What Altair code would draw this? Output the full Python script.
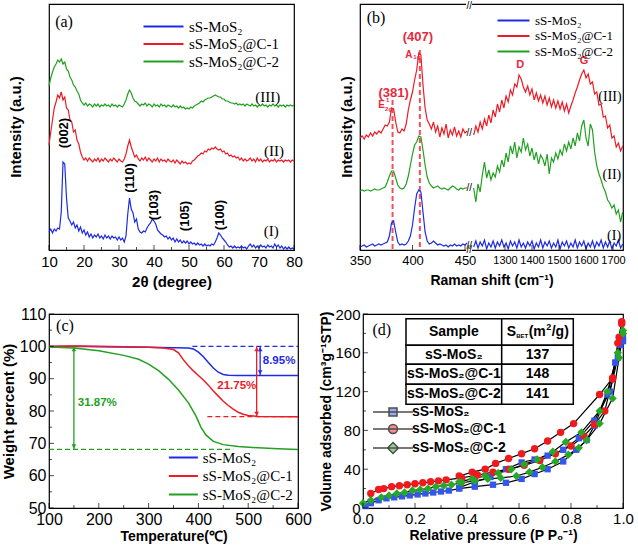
import altair as alt
import pandas as pd

SER = ["sS-MoS₂", "sS-MoS₂@C-1", "sS-MoS₂@C-2"]
LINE_COL = ["#1d2be6", "#ee1b25", "#22a022"]
MARK_COL = ["#3356ee", "#f01a1e", "#27a827"]
SANS = "Liberation Sans"
SERIF = "Liberation Serif"

# ---------------- (a) XRD ----------------
xrd_theta = [10 + 0.5 * i for i in range(141)]
xrd_I = [18, 21, 17, 21, 19, 22, 21, 38, 88, 86,
         52, 32, 29, 25, 28, 22, 25, 19, 23, 17,
         20, 15, 18, 13, 16, 12, 15, 13, 16, 12,
         14, 11, 15, 12, 14, 11, 14, 12, 13, 10,
         13, 10, 12, 8, 14, 36, 52, 41, 37, 28,
         31, 21, 18, 17, 19, 18, 22, 25, 27, 31,
         29, 26, 20, 18, 16, 15, 13, 14, 11, 13,
         10, 12, 8, 11, 8, 10, 7, 9, 7, 9,
         6, 8, 6, 7, 5, 7, 5, 6, 4, 6,
         4, 5, 4, 6, 5, 8, 12, 17, 15, 12,
         10, 8, 5, 3, 4, 2, 4, 2, 3, 2,
         4, 2, 3, 1, 4, 6, 3, 5, 2, 4,
         2, 5, 3, 4, 2, 5, 3, 4, 2, 6,
         3, 5, 2, 4, 1, 3, 1, 3, 1, 2,
         1]
xrd_II = [105, 118, 130, 142, 148, 155, 152, 158, 150, 153,
          142, 140, 130, 128, 118, 120, 110, 106, 98, 93,
          90, 92, 89, 92, 90, 88, 91, 89, 92, 88,
          91, 89, 92, 90, 88, 91, 89, 92, 90, 88,
          91, 89, 88, 91, 96, 104, 110, 103, 98, 93,
          95, 91, 89, 92, 90, 93, 89, 92, 90, 88,
          91, 89, 92, 88, 91, 89, 90, 88, 91, 89,
          88, 90, 87, 90, 88, 86, 89, 87, 88, 86,
          87, 86, 89, 90, 92, 94, 95, 97, 96, 99,
          98, 101, 100, 102, 101, 103, 101, 100, 101, 98,
          99, 96, 97, 94, 95, 93, 94, 92, 93, 90,
          92, 89, 91, 89, 90, 92, 89, 91, 88, 92,
          89, 91, 88, 90, 89, 91, 88, 90, 89, 91,
          88, 90, 89, 90, 88, 90, 89, 90, 88, 90,
          89]
xrd_III = [164, 172, 178, 183, 186, 190, 188, 191, 186, 188,
           181, 179, 173, 170, 165, 163, 159, 156, 150, 147,
           145, 147, 144, 146, 145, 143, 146, 144, 146, 143,
           145, 144, 146, 144, 145, 143, 146, 144, 145, 143,
           145, 144, 143, 146, 150, 156, 160, 157, 152, 149,
           148, 146, 144, 146, 145, 147, 144, 146, 145, 143,
           146, 144, 145, 143, 146, 144, 145, 143, 145, 144,
           143, 145, 143, 144, 142, 144, 142, 143, 141, 142,
           141, 143, 142, 144, 145, 146, 147, 149, 148, 150,
           151, 152, 152, 153, 154, 155, 154, 153, 153, 151,
           151, 149, 149, 148, 147, 147, 146, 147, 145, 146,
           145, 146, 144, 146, 145, 144, 146, 144, 145, 143,
           145, 144, 146, 144, 145, 143, 145, 144, 146, 144,
           145, 143, 145, 144, 145, 143, 145, 144, 145, 144,
           145]
xrd_ticks = [10, 20, 30, 40, 50, 60, 70, 80]
xrd_minor = [15, 25, 35, 45, 55, 65, 75]
xrd_peaks = ["(002)", "(110)", "(103)", "(105)", "(100)"]
xrd_peak_x = [14.3, 33.1, 40.0, 48.9, 58.8]
xrd_peak_y = [117, 72, 45, 34, 35]
xrd_roman = ["(I)", "(II)", "(III)"]
xrd_roman_x = [73.5, 74.3, 72.5]
xrd_roman_y = [19, 99, 153]

# ---------------- (b) Raman ----------------
ram_xL = list(range(350, 453, 2))
ram_xR = list(range(1184, 1737, 8))
ram_I_L = [3, 4, 5, 3, 4, 5, 6, 4, 5, 6,
           5, 6, 7, 8, 14, 27, 29, 18, 8, 5,
           6, 5, 6, 9, 14, 25, 42, 56, 60, 58,
           38, 18, 9, 6, 7, 9, 7, 5, 6, 5,
           4, 5, 3, 5, 4, 6, 4, 5, 4, 6,
           5, 7]
ram_II_L = [59, 60, 59, 60, 60, 59, 60, 61, 60, 60,
            61, 62, 63, 68, 74, 79, 79, 72, 65, 62,
            61, 62, 66, 74, 85, 96, 105, 108, 114, 113,
            100, 85, 73, 67, 64, 62, 63, 64, 62, 61,
            62, 61, 60, 62, 64, 63, 61, 60, 62, 61,
            62, 62]
ram_III_L = [112, 114, 111, 115, 113, 117, 114, 118, 116, 119,
             117, 121, 125, 124, 128, 142, 141, 128, 118, 117,
             121, 119, 126, 140, 150, 158, 170, 180, 197, 195,
             165, 142, 130, 126, 121, 128, 118, 124, 113, 122,
             116, 126, 112, 120, 115, 123, 114, 119, 113, 121,
             117, 119]
ram_I_R = [3, 9, 2, 8, 4, 10, 1, 7, 3, 9,
           2, 8, 4, 10, 3, 7, 1, 9, 4, 8,
           2, 10, 3, 7, 2, 8, 4, 9, 1, 7,
           3, 10, 2, 8, 4, 9, 2, 7, 3, 10,
           1, 8, 4, 9, 2, 7, 3, 10, 2, 8,
           4, 9, 1, 7, 3, 9, 2, 8, 4, 10,
           2, 8, 3, 9, 1, 7, 4, 10, 2, 6]
ram_II_R = [62, 48, 66, 58, 75, 88, 72, 80, 70, 77,
            73, 84, 78, 90, 83, 97, 88, 104, 96, 108,
            92, 103, 98, 112, 100, 106, 94, 102, 90, 98,
            86, 95, 91, 84, 96, 76, 92, 88, 97, 91,
            100, 95, 106, 99, 108, 101, 112, 104, 117, 109,
            124, 130, 112, 104, 126, 120, 98, 84, 76, 70,
            63, 58, 50, 47, 42, 45, 36, 40, 28, 38]
ram_III_R = [115, 124, 118, 128, 121, 131, 124, 135, 127, 140,
             133, 146, 138, 150, 142, 154, 148, 160, 155, 166,
             163, 175, 171, 163, 158, 164, 155, 161, 150, 157,
             149, 155, 147, 154, 145, 152, 143, 150, 142, 149,
             141, 148, 139, 146, 137, 144, 150, 157, 163, 170,
             176, 180, 172, 176, 166, 168, 156, 158, 145, 146,
             133, 134, 122, 125, 112, 114, 103, 107, 99, 104]
# curve (I) = sS-MoS2, (II) = sS-MoS2@C-2, (III) = sS-MoS2@C-1
ram_series_of = [SER[0], SER[2], SER[1]]
ram_ticks = [350, 400, 450, 1300, 1400, 1500, 1600, 1700]
ram_dash_x = [381, 407]
ram_dash_top = [150, 200]
ram_break_x = 454
ram_break_y = [244, 117, 62, 4, 0]
ram_roman = ["(I)", "(II)", "(III)"]
ram_roman_x = [1704, 1696, 1689]
ram_roman_y = [14, 75, 153]

# ---------------- (c) TGA ----------------
tga_T_I = [100, 150, 200, 250, 300, 350, 380, 390, 400, 410, 420, 430, 440, 450, 460, 480, 600]
tga_W_I = [99.9, 100, 99.9, 99.8, 99.7, 99.6, 99.5, 99.2, 98.2, 96.8, 95.0, 93.3, 92.0, 91.3, 91.05, 91.0, 91.0]
tga_T_II = [100, 150, 200, 250, 300, 330, 350, 360, 370, 380, 390, 400, 410, 420, 430, 440, 450, 460,
            470, 480, 490, 500, 520, 600]
tga_W_II = [100, 100.1, 100, 99.9, 99.7, 99.5, 99.0, 98.0, 95.8, 94.0, 92.4, 91.0, 89.6, 88.0, 86.2,
            84.6, 83.0, 81.7, 80.6, 79.6, 79.0, 78.6, 78.3, 78.25]
tga_T_III = [100, 150, 200, 250, 280, 300, 320, 340, 360, 380, 395, 405, 415, 430, 450, 480, 520, 560, 600]
tga_W_III = [99.8, 99.5, 98.6, 97.2, 96.0, 94.5, 92.5, 89.8, 86.5, 82.5, 78.5, 75.0, 72.6, 70.6, 69.6,
             69.0, 68.6, 68.3, 68.1]
tga_loss = ["8.95%", "21.75%", "31.87%"]
tga_loss_T = [562, 477, 197]
tga_loss_W = [95.4, 87.7, 82.5]
tga_arrow_T = [524, 517, 150]
tga_arrow_top = [100, 100, 100]
tga_arrow_bot = [91.05, 78.25, 68.13]
tga_dash_T1 = [388, 418, 100]
tga_dash_T2 = [600, 600, 470]
tga_dash_W = [100, 78.25, 68.13]

# ---------------- (d) BET ----------------
iso_ads_P = [
    [0.01, 0.03, 0.06, 0.09, 0.12, 0.15, 0.18, 0.21, 0.24, 0.27, 0.30, 0.33, 0.37, 0.43, 0.50, 0.55,
     0.61, 0.66, 0.71, 0.77, 0.82, 0.86, 0.89, 0.94, 0.97, 0.99, 1.00],
    [0.03, 0.06, 0.08, 0.11, 0.14, 0.17, 0.20, 0.23, 0.26, 0.29, 0.32, 0.38, 0.44, 0.50, 0.56, 0.62,
     0.68, 0.74, 0.80, 0.85, 0.89, 0.93, 0.96, 0.98, 0.995],
    [0.0, 0.03, 0.07, 0.10, 0.13, 0.16, 0.19, 0.22, 0.25, 0.28, 0.31, 0.34, 0.38, 0.43, 0.48, 0.53,
     0.59, 0.64, 0.69, 0.74, 0.79, 0.83, 0.86, 0.91, 0.96, 0.985, 1.0]]
iso_ads_V = [
    [2, 5, 8, 10, 11, 12, 13, 14, 15, 16, 17, 18, 20, 22, 24, 26, 30, 35, 40, 48, 60, 70, 85, 117, 150,
     168, 172],
    [15, 19, 20, 22, 23, 24, 25, 26, 27, 28, 29, 31, 34, 37, 40, 44, 49, 56, 64, 74, 86, 100, 133, 170, 190],
    [5, 8, 11, 13, 15, 16, 18, 19, 20, 22, 23, 24, 26, 28, 30, 31, 33, 37, 42, 48, 55, 62, 70, 87, 113,
     155, 180]]
iso_des_P = [
    [1.00, 0.98, 0.95, 0.89, 0.83, 0.77, 0.71, 0.66, 0.61, 0.55, 0.49, 0.43, 0.37],
    [0.995, 0.985, 0.96, 0.91, 0.81, 0.76, 0.71, 0.66, 0.61, 0.56, 0.51, 0.47, 0.42, 0.37],
    [1.0, 0.98, 0.94, 0.91, 0.84, 0.78, 0.73, 0.67, 0.62, 0.57, 0.52, 0.47, 0.42, 0.37]]
iso_des_V = [
    [176, 155, 120, 90, 72, 60, 54, 50, 47, 40, 32, 27, 21],
    [192, 176, 134, 117, 87, 78, 69, 61, 56, 51, 46, 40, 37, 33],
    [183, 160, 120, 100, 78, 68, 58, 50, 45, 40, 36, 33, 30, 27]]
bet_samples = ["sS-MoS₂", "sS-MoS₂@C-1", "sS-MoS₂@C-2"]
bet_sbet = ["137", "148", "141"]


# ---------------- helpers ----------------
def ax(title, values=None, labels=True, lfs=15, tfs=15, title_pad=4, label_pad=4, **kw):
    d = dict(title=title, grid=False, domain=False, ticks=False, labelFont=SANS, labelFontSize=lfs,
             labelColor="black", labelPadding=label_pad, labelFlush=False, labelOverlap=False,
             titleFont=SANS, titleFontSize=tfs, titleFontWeight="bold", titleColor="black",
             titlePadding=title_pad)
    if values is not None:
        d["values"] = values
    if not labels:
        d["labels"] = False
    d.update(kw)
    return alt.Axis(**d)


def line_legend(orient, offset, L, fs, rowpad, gap=3):
    # line symbol of length L: custom path spanning -1..7 units (r = L / 8 px per unit)
    r = L / 8.0
    return alt.Legend(orient=orient, offset=offset, title=None, direction="vertical",
                      symbolType="M-1,0H7", symbolSize=(2 * r) ** 2, symbolStrokeWidth=2, labelFont=SERIF,
                      labelFontSize=fs, labelColor="black", labelOffset=6 * r + gap,
                      rowPadding=rowpad, padding=0, labelLimit=0)


INDEP = dict(color="independent", fill="independent", shape="independent", stroke="independent")

# ---------------- panel (a) ----------------
WA, HA = 245, 246
xs_a = alt.Scale(domain=[10, 80], nice=False, zero=False)
ys_a = alt.Scale(domain=[0, 246], nice=False, zero=False)
XA = ax("2θ (degree)", values=xrd_ticks, lfs=15, tfs=15, title_pad=5)


def enc_a(ch):
    return ch.encode(x=alt.X("x:Q", scale=xs_a, axis=XA), y=alt.Y("y:Q", scale=ys_a, axis=None))


na = len(xrd_theta)
df_a = pd.DataFrame({"x": xrd_theta * 3, "y": xrd_I + xrd_II + xrd_III,
                     "s": [SER[0]] * na + [SER[1]] * na + [SER[2]] * na})
a_lines = enc_a(alt.Chart(df_a).mark_line(strokeWidth=1.2)).encode(
    color=alt.Color("s:N", scale=alt.Scale(domain=SER, range=LINE_COL),
                    legend=line_legend("top-right", 15, 40, 15, 1.5)))
a_peaks = enc_a(alt.Chart(pd.DataFrame({"x": xrd_peak_x, "y": xrd_peak_y, "t": xrd_peaks})).mark_text(
    angle=270, font=SANS, fontSize=13, fontWeight="bold", color="black")).encode(text="t:N")
a_roman = enc_a(alt.Chart(pd.DataFrame({"x": xrd_roman_x, "y": xrd_roman_y, "t": xrd_roman})).mark_text(
    font=SERIF, fontSize=15, color="black")).encode(text="t:N")
a_tag = enc_a(alt.Chart(pd.DataFrame({"x": [14.3], "y": [228], "t": ["(a)"]})).mark_text(
    font=SERIF, fontSize=16, color="black")).encode(text="t:N")
a_ytitle = alt.Chart(pd.DataFrame({"t": ["Intensity (a.u.)"]})).mark_text(
    angle=270, font=SANS, fontSize=15, fontWeight="bold", color="black").encode(
    x=alt.value(-33), y=alt.value(HA / 2), text="t:N")


def ticks_x_a(values, L):
    return enc_a(alt.Chart(pd.DataFrame({"x": values, "y": [0] * len(values)})).mark_tick(
        color="black", thickness=1, size=L, orient="vertical", yOffset=-L / 2))


panel_a = alt.layer(a_lines, ticks_x_a(xrd_ticks, 5), ticks_x_a(xrd_minor, 3),
                    a_peaks, a_roman, a_tag, a_ytitle).properties(width=WA, height=HA)

# ---------------- panel (b) ----------------
WB, HB = 263, 246
U_EXPR = "datum.x < 1000 ? (datum.x - 350) * 1.05 : 145 + (datum.x - 1300) * 0.27"


def ram_u(v):
    return (v - 350) * 1.05 if v < 1000 else 145 + (v - 1300) * 0.27


xs_b = alt.Scale(domain=[0, 263], nice=False, zero=False)
ys_b = alt.Scale(domain=[0, 246], nice=False, zero=False)
u_ticks = [ram_u(v) for v in ram_ticks]
XB = ax("Raman shift (cm⁻¹)", values=u_ticks,
        lfs={"condition": {"test": "datum.value > 120", "value": 11}, "value": 13},
        tfs=14, title_pad=6,
        labelExpr="datum.value < 120 ? format(350 + datum.value / 1.05, 'd') : "
                  "format(1300 + (datum.value - 145) / 0.27, 'd')")


def enc_b(ch):
    return ch.transform_calculate(u=U_EXPR).encode(
        x=alt.X("u:Q", scale=xs_b, axis=XB), y=alt.Y("y:Q", scale=ys_b, axis=None))


rows = []
for s, L, R in zip(ram_series_of, [ram_I_L, ram_II_L, ram_III_L], [ram_I_R, ram_II_R, ram_III_R]):
    for xv, yv in zip(ram_xL, L):
        rows.append({"x": xv, "y": yv, "s": s, "seg": "L"})
    for xv, yv in zip(ram_xR, R):
        rows.append({"x": xv, "y": yv, "s": s, "seg": "R"})
df_b = pd.DataFrame(rows)
b_gap = enc_b(alt.Chart(pd.DataFrame({"x": [451], "y": [0]})).mark_rect(
    color="white", width=6, height=HB + 4, yOffset=-HB / 2, xOffset=3))
b_lines = enc_b(alt.Chart(df_b).mark_line(strokeWidth=1.2)).encode(
    color=alt.Color("s:N", scale=alt.Scale(domain=SER, range=LINE_COL),
                    legend=line_legend("top-right", 10, 32, 13, 1.5)),
    detail="seg:N")
b_dash = enc_b(alt.Chart(pd.DataFrame({"x": ram_dash_x, "y": ram_dash_top, "y0": [0, 0]})).mark_rule(
    color="#f0505c", strokeWidth=2, strokeDash=[5, 3])).encode(y2="y0:Q")


def btxt(xv, yv, t, **mk):
    return enc_b(alt.Chart(pd.DataFrame({"x": [xv], "y": [yv], "t": [t]})).mark_text(**mk)).encode(text="t:N")


RED_T = "#e8283c"
b_texts = [
    btxt(407, 213, "(407)", font=SANS, fontSize=13, fontWeight="bold", color=RED_T, dx=-2),
    btxt(407, 195, "A", font=SANS, fontSize=10, fontWeight="bold", color=RED_T, dx=-11),
    btxt(407, 193, "1g", font=SANS, fontSize=6, fontWeight="bold", color=RED_T, dx=-3),
    btxt(381, 157, "(381)", font=SANS, fontSize=13, fontWeight="bold", color=RED_T, dx=1),
    btxt(381, 145, "E", font=SANS, fontSize=10, fontWeight="bold", color=RED_T, dx=-11),
    btxt(381, 150, "1", font=SANS, fontSize=6, fontWeight="bold", color=RED_T, dx=-5),
    btxt(381, 141, "2g", font=SANS, fontSize=6, fontWeight="bold", color=RED_T, dx=-4),
    btxt(1356, 185, "D", font=SANS, fontSize=11, fontWeight="bold", color=RED_T),
    btxt(1593, 189, "G", font=SANS, fontSize=11, fontWeight="bold", color=RED_T),
    btxt(350, 232, "(b)", font=SERIF, fontSize=16, color="black", dx=16),
]
b_roman = enc_b(alt.Chart(pd.DataFrame({"x": ram_roman_x, "y": ram_roman_y, "t": ram_roman})).mark_text(
    font=SERIF, fontSize=14, color="black")).encode(text="t:N")
b_breaks = enc_b(alt.Chart(pd.DataFrame({"x": [ram_break_x] * len(ram_break_y), "y": ram_break_y,
                                         "t": ["//"] * len(ram_break_y)})).mark_text(
    font=SANS, fontSize=10, color="black")).encode(text="t:N")
b_ticks = alt.Chart(pd.DataFrame({"u": u_ticks, "y": [0] * len(u_ticks)})).mark_tick(
    color="black", thickness=1, size=5, orient="vertical", yOffset=-2.5).encode(
    x=alt.X("u:Q", scale=xs_b, axis=XB), y=alt.Y("y:Q", scale=ys_b, axis=None))
b_ytitle = alt.Chart(pd.DataFrame({"t": ["Intensity (a.u.)"]})).mark_text(
    angle=270, font=SANS, fontSize=15, fontWeight="bold", color="black").encode(
    x=alt.value(-13), y=alt.value(HB / 2), text="t:N")
panel_b = alt.layer(b_gap, b_dash, b_lines, b_ticks, b_roman, b_breaks, b_ytitle,
                    *b_texts).properties(width=WB, height=HB)

# ---------------- panel (c) ----------------
WC, HC = 249, 194
xs_c = alt.Scale(domain=[100, 600], nice=False, zero=False)
ys_c = alt.Scale(domain=[50, 110], nice=False, zero=False)
XC = ax("Temperature(℃)", values=list(range(100, 601, 100)), lfs=16, tfs=14, title_pad=2, label_pad=3)
YC = ax("Weight percent (%)", values=list(range(50, 111, 10)), lfs=16, tfs=15, title_pad=3, label_pad=3)


def enc_c(ch, yf="y:Q"):
    return ch.encode(x=alt.X("x:Q", scale=xs_c, axis=XC), y=alt.Y(yf, scale=ys_c, axis=YC))


c_layers = []
for i in range(3):
    c_layers.append(enc_c(alt.Chart(pd.DataFrame({"x": [tga_dash_T1[i]], "x2": [tga_dash_T2[i]],
                                                  "y": [tga_dash_W[i]]})).mark_rule(
        color=LINE_COL[i], strokeWidth=1.3, strokeDash=[5, 3])).encode(x2="x2:Q"))
c_layers.append(enc_c(alt.Chart(pd.DataFrame({"x": [100], "x2": [155], "y": [100]})).mark_rule(
    color=LINE_COL[2], strokeWidth=1.3, strokeDash=[5, 3])).encode(x2="x2:Q"))
rows = []
for s, T, W in zip(SER, [tga_T_I, tga_T_II, tga_T_III], [tga_W_I, tga_W_II, tga_W_III]):
    for tv, wv in zip(T, W):
        rows.append({"x": tv, "y": wv, "s": s})
df_c = pd.DataFrame(rows)
c_lines = enc_c(alt.Chart(df_c).mark_line(strokeWidth=1.5)).encode(
    color=alt.Color("s:N", scale=alt.Scale(domain=SER, range=LINE_COL),
                    legend=line_legend("bottom-right", 5, 29, 15, 2.5, gap=1)))
c_layers.append(c_lines)
for i in range(3):
    dfa = pd.DataFrame({"x": [tga_arrow_T[i]], "y": [tga_arrow_top[i]], "y2": [tga_arrow_bot[i]]})
    c_layers.append(enc_c(alt.Chart(dfa).mark_rule(color=LINE_COL[i], strokeWidth=1.3)).encode(y2="y2:Q"))
    c_layers.append(enc_c(alt.Chart(dfa).mark_point(shape="triangle-up", filled=True, size=22, color=LINE_COL[i],
                                                    opacity=1, yOffset=3)))
    c_layers.append(enc_c(alt.Chart(dfa).mark_point(shape="triangle-down", filled=True, size=22,
                                                    color=LINE_COL[i], opacity=1, yOffset=-3), yf="y2:Q"))
    c_layers.append(enc_c(alt.Chart(pd.DataFrame({"x": [tga_loss_T[i]], "y": [tga_loss_W[i]],
                                                  "t": [tga_loss[i]]})).mark_text(
        font=SANS, fontSize=11.5, fontWeight="bold", color=LINE_COL[i])).encode(text="t:N"))
c_layers.append(enc_c(alt.Chart(pd.DataFrame({"x": [132], "y": [106.3], "t": ["(c)"]})).mark_text(
    font=SERIF, fontSize=16, color="black")).encode(text="t:N"))


def ticks_c(xv, yv, L, orient):
    df = pd.DataFrame({"x": xv, "y": yv})
    if orient == "vertical":
        return enc_c(alt.Chart(df).mark_tick(color="black", thickness=1, size=L, orient="vertical",
                                             yOffset=-L / 2))
    return enc_c(alt.Chart(df).mark_tick(color="black", thickness=1, size=L, orient="horizontal",
                                         xOffset=L / 2))


c_xt = list(range(100, 601, 100))
c_xm = list(range(150, 551, 100))
c_yt = list(range(50, 111, 10))
c_ym = list(range(55, 106, 10))
c_layers += [ticks_c(c_xt, [50] * len(c_xt), 5, "vertical"), ticks_c(c_xm, [50] * len(c_xm), 3, "vertical"),
             ticks_c([100] * len(c_yt), c_yt, 5, "horizontal"), ticks_c([100] * len(c_ym), c_ym, 3, "horizontal")]
panel_c = alt.layer(*c_layers).properties(width=WC, height=HC)

# ---------------- panel (d) ----------------
WD, HD = 260, 194
xs_d = alt.Scale(domain=[0, 1], nice=False, zero=False)
ys_d = alt.Scale(domain=[0, 200], nice=False, zero=False)
XD = ax("Relative pressure (P P₀⁻¹)", values=[0, 0.2, 0.4, 0.6, 0.8, 1.0], format=".1f", lfs=15, tfs=14,
        title_pad=2, label_pad=3)
YD = ax("Volume adsorbed (cm³g⁻¹STP)", values=[0, 40, 80, 120, 160, 200], lfs=15, tfs=14, title_pad=1,
        label_pad=3)


def enc_d(ch):
    return ch.encode(x=alt.X("x:Q", scale=xs_d, axis=XD), y=alt.Y("y:Q", scale=ys_d, axis=YD))


rows = []
for i, s in enumerate(SER):
    for pv, vv in zip(iso_ads_P[i], iso_ads_V[i]):
        rows.append({"x": pv, "y": vv, "s": s, "b": s + "-ads"})
    for pv, vv in zip(iso_des_P[i], iso_des_V[i]):
        rows.append({"x": pv, "y": vv, "s": s, "b": s + "-des"})
df_d = pd.DataFrame(rows)
d_lines = enc_d(alt.Chart(df_d).mark_line(color="black", strokeWidth=1.2)).encode(detail="b:N")
shapes = ["square", "circle", "diamond"]
sizes = [40, 55, 70]
d_pts = []
for i in range(3):
    d_pts.append(enc_d(alt.Chart(df_d).transform_filter(alt.datum.s == SER[i]).mark_point(
        shape=shapes[i], filled=True, size=sizes[i], color=MARK_COL[i], opacity=1)))
# legend symbols: 40 px line (units -1..7 with r = 5 px) plus the marker at its middle
leg_paths = ["M-1,0H7M2.2,-0.8H3.8V0.8H2.2Z",
             "M-1,0H7M3.9,0A0.9,0.9,0,1,1,2.1,0A0.9,0.9,0,1,1,3.9,0Z",
             "M-1,0H7M3,-1.1L4.1,0L3,1.1L1.9,0Z"]
d_leg_def = alt.Legend(orient="none", legendX=8, legendY=91, title=None, direction="vertical",
                       symbolSize=100, symbolStrokeWidth=1.5, labelFont=SANS, labelFontSize=14,
                       labelFontWeight="bold", labelColor="black", labelOffset=27, rowPadding=2, padding=0,
                       labelLimit=0)
d_leg = enc_d(alt.Chart(pd.DataFrame({"s": SER, "x": [0, 0, 0], "y": [0, 0, 0]})).transform_filter(
    "false").mark_point(filled=True)).encode(
    shape=alt.Shape("s:N", scale=alt.Scale(domain=SER, range=leg_paths), legend=d_leg_def),
    fill=alt.Fill("s:N", scale=alt.Scale(domain=SER, range=MARK_COL), legend=d_leg_def),
    stroke=alt.Stroke("s:N", scale=alt.Scale(domain=SER, range=["black", "black", "black"]), legend=d_leg_def))
d_tag = enc_d(alt.Chart(pd.DataFrame({"x": [0.072], "y": [184], "t": ["(d)"]})).mark_text(
    font=SERIF, fontSize=16, color="black")).encode(text="t:N")


def ticks_d(xv, yv, L, orient):
    df = pd.DataFrame({"x": xv, "y": yv})
    if orient == "vertical":
        return enc_d(alt.Chart(df).mark_tick(color="black", thickness=1, size=L, orient="vertical",
                                             yOffset=-L / 2))
    return enc_d(alt.Chart(df).mark_tick(color="black", thickness=1, size=L, orient="horizontal",
                                         xOffset=L / 2))


d_xt = [0, 0.2, 0.4, 0.6, 0.8, 1.0]
d_xm = [0.1, 0.3, 0.5, 0.7, 0.9]
d_yt = [0, 40, 80, 120, 160, 200]
d_ym = [20, 60, 100, 140, 180]
d_main = alt.layer(d_lines, *d_pts, d_leg, d_tag,
                   ticks_d(d_xt, [0] * 6, 5, "vertical"), ticks_d(d_xm, [0] * 5, 3, "vertical"),
                   ticks_d([0] * 6, d_yt, 5, "horizontal"), ticks_d([0] * 5, d_ym, 3, "horizontal"))

# table
tbl_rows = ["Sample"] + bet_samples
tbl_vals = [""] + bet_sbet
cells = []
for r in range(4):
    for c in range(2):
        cells.append({"c0": c, "c1": c + 1, "r0": r, "r1": r + 1, "cx": c + 0.5, "ry": r + 0.5,
                      "t": tbl_rows[r] if c == 0 else tbl_vals[r]})
df_tbl = pd.DataFrame(cells)
tx = alt.Scale(domain=[0, 1, 2], range=[43, 138.7, 210.3], zero=False, nice=False)
ty = alt.Scale(domain=[0, 1, 2, 3, 4], range=[4.7, 31.3, 50.3, 70.3, 90.3], zero=False, nice=False)
t_rect = alt.Chart(df_tbl).mark_rect(fill="white", stroke="black", strokeWidth=1.5).encode(
    x=alt.X("c0:Q", scale=tx, axis=None), x2="c1:Q", y=alt.Y("r0:Q", scale=ty, axis=None), y2="r1:Q")
t_text = alt.Chart(df_tbl).mark_text(font=SANS, fontSize=14, fontWeight="bold", color="black").encode(
    x=alt.X("cx:Q", scale=tx, axis=None), y=alt.Y("ry:Q", scale=ty, axis=None), text="t:N")


def hdr(t, dx, dy, fs):
    return alt.Chart(pd.DataFrame({"cx": [1], "ry": [0.5], "t": [t]})).mark_text(
        font=SANS, fontSize=fs, fontWeight="bold", color="black", align="left", dx=dx, dy=dy).encode(
        x=alt.X("cx:Q", scale=tx, axis=None), y=alt.Y("ry:Q", scale=ty, axis=None), text="t:N")


t_layer = alt.layer(t_rect, t_text, hdr("S", 5, 0, 14), hdr("BET", 14.5, 4, 6), hdr("(m", 27, 0, 14),
                    hdr("2", 44.5, -5, 9), hdr("/g)", 50, 0, 14))
panel_d = alt.layer(d_main, t_layer).resolve_scale(x="independent", y="independent").properties(
    width=WD, height=HD)

row1 = alt.hconcat(panel_a, panel_b, spacing=36).resolve_scale(**INDEP)
row2 = alt.hconcat(panel_c, panel_d, spacing=7).resolve_scale(**INDEP)
chart = alt.vconcat(row1, row2, spacing=15).resolve_scale(**INDEP).properties(
    padding={"left": 0, "top": 0, "right": 0, "bottom": 0}).configure_view(stroke="black", strokeWidth=1.2)

chart.save("out.html", embed_options={"renderer": "svg", "actions": False})
